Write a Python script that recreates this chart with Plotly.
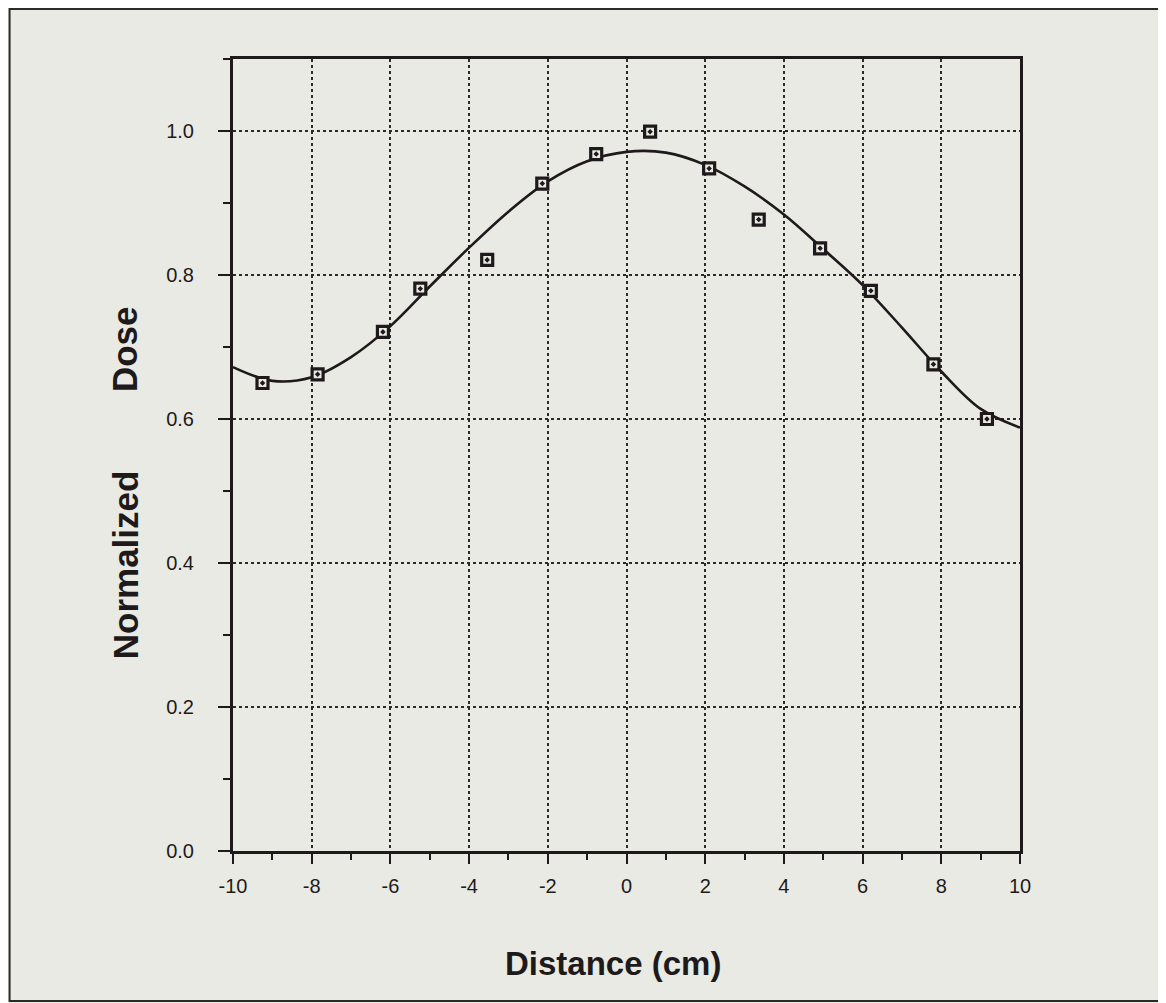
import plotly.graph_objects as go

# Measured data points
point_x = [-9.25, -7.85, -6.19, -5.24, -3.54, -2.14, -0.77, 0.60, 2.10, 3.36, 4.92, 6.21, 7.80, 9.16]
point_y = [0.650, 0.662, 0.721, 0.781, 0.821, 0.927, 0.968, 0.999, 0.948, 0.877, 0.837, 0.778, 0.676, 0.600]

# Fitted curve
curve_x = [-10, -9, -8, -7, -6, -5, -4, -3, -2, -1, 0, 1, 2, 3, 4, 5, 6, 7, 8, 9, 10]
curve_y = [0.672, 0.653, 0.658, 0.686, 0.729, 0.784, 0.838, 0.888, 0.930, 0.958, 0.971,
           0.970, 0.953, 0.923, 0.884, 0.836, 0.786, 0.727, 0.666, 0.614, 0.588]

x_tick_vals = [-10, -8, -6, -4, -2, 0, 2, 4, 6, 8, 10]
x_tick_text = ["-10", "-8", "-6", "-4", "-2", "0", "2", "4", "6", "8", "10"]
y_tick_vals = [0.0, 0.2, 0.4, 0.6, 0.8, 1.0]
y_tick_text = ["0.0", "0.2", "0.4", "0.6", "0.8", "1.0"]

BG = "#eaeae4"
INK = "#1e1a1b"
GRID = "#2a2a2a"
FONT = "Liberation Sans, Arial, sans-serif"

fig = go.Figure()
fig.add_trace(go.Scatter(x=curve_x, y=curve_y, mode="lines",
                         line=dict(color=INK, width=2.6, shape="spline", smoothing=1.0),
                         hoverinfo="skip", showlegend=False))
fig.add_trace(go.Scatter(x=point_x, y=point_y, mode="markers",
                         marker=dict(symbol="square-dot", size=11, color=BG,
                                     line=dict(color=INK, width=3.2)),
                         showlegend=False))

axis_common = dict(showline=True, mirror=True, linewidth=3, linecolor=INK,
                   showgrid=True, gridcolor=GRID, gridwidth=1.7, griddash="dot",
                   zeroline=False, ticks="outside", tickcolor=INK, tickwidth=2,
                   tickfont=dict(family=FONT, size=20, color=INK))

fig.update_xaxes(range=[-10, 10], tickmode="array", tickvals=x_tick_vals, ticktext=x_tick_text,
                 ticklen=10, ticklabelstandoff=5,
                 minor=dict(dtick=1, ticks="outside", ticklen=6, tickcolor=INK, tickwidth=2, showgrid=False),
                 **axis_common)
fig.update_yaxes(range=[0, 1.1], tickmode="array", tickvals=y_tick_vals, ticktext=y_tick_text,
                 ticklen=12, ticklabelstandoff=20,
                 minor=dict(dtick=0.1, ticks="outside", ticklen=7, tickcolor=INK, tickwidth=2, showgrid=False),
                 **axis_common)

fig.add_annotation(text="<b>Distance (cm)</b>", xref="paper", yref="paper",
                   x=0.483, y=-0.142, xanchor="center", yanchor="middle",
                   showarrow=False, font=dict(family=FONT, size=33, color=INK))
ytitle_font = dict(family=FONT, size=35, color=INK)
fig.add_annotation(text="<b>Normalized</b>", xref="paper", yref="paper",
                   x=-0.137, y=0.361, xanchor="center", yanchor="middle", textangle=-90,
                   showarrow=False, font=ytitle_font)
fig.add_annotation(text="<b>Dose</b>", xref="paper", yref="paper",
                   x=-0.137, y=0.634, xanchor="center", yanchor="middle", textangle=-90,
                   showarrow=False, font=ytitle_font)

# outer frame around the whole picture
fig.add_shape(type="rect", xref="paper", yref="paper",
              x0=-0.2839, x1=1.184, y0=-0.1894, y1=1.0631,
              line=dict(color="#2a2a2a", width=2), layer="below")

fig.update_layout(width=1166, height=1003, autosize=False,
                  margin=dict(l=225, r=154, t=51, b=160),
                  paper_bgcolor=BG, plot_bgcolor=BG,
                  font=dict(family=FONT, color=INK))

fig.write_html("out.html")
